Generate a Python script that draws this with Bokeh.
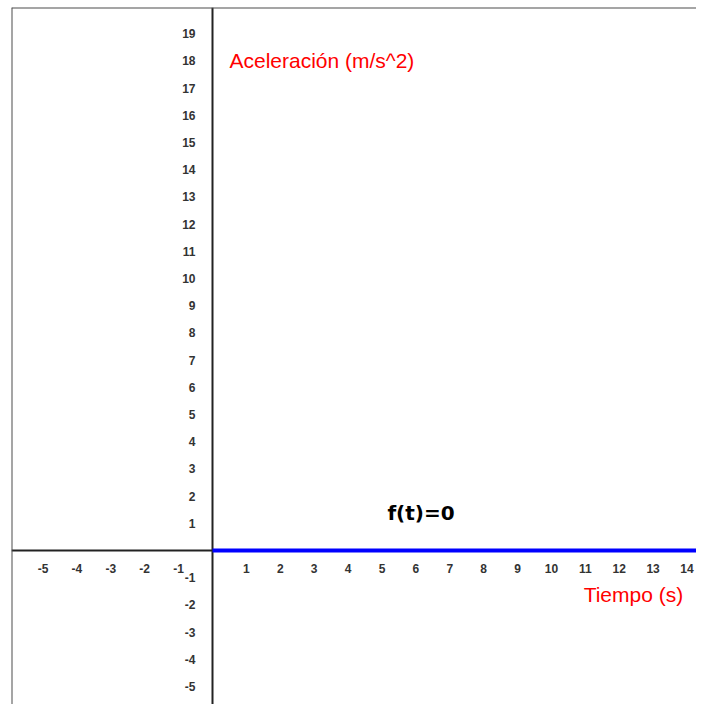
from bokeh.plotting import figure
from bokeh.models import FixedTicker, Span, Label
from bokeh.embed import file_html
from bokeh.resources import INLINE

# data
t_values = [0, 15]
f_values = [0, 0]
x_ticks = [-5, -4, -3, -2, -1, 1, 2, 3, 4, 5, 6, 7, 8, 9, 10, 11, 12, 13, 14]
y_ticks = [-5, -4, -3, -2, -1, 1, 2, 3, 4, 5, 6, 7, 8, 9, 10, 11, 12, 13, 14, 15, 16, 17, 18, 19]
x_min, x_max = -5.93, 14.28
y_min, y_max = -5.66, 19.96

p = figure(width=696, height=704, x_range=(x_min, x_max), y_range=(y_min, y_max),
           output_backend="svg", toolbar_location=None,
           min_border_left=11, min_border_right=0, min_border_top=7, min_border_bottom=0)
p.outline_line_color = None
p.grid.visible = False
p.background_fill_color = "white"

for ax in (p.xaxis[0], p.yaxis[0]):
    ax.fixed_location = 0
    ax.axis_line_color = "#222222"
    ax.axis_line_width = 2
    ax.major_tick_line_color = None
    ax.minor_tick_line_color = None
    ax.major_label_text_font = "Liberation Sans"
    ax.major_label_text_font_size = "12px"
    ax.major_label_text_font_style = "bold"
    ax.major_label_text_color = "#333333"
p.xaxis[0].ticker = FixedTicker(ticks=x_ticks)
p.yaxis[0].ticker = FixedTicker(ticks=y_ticks)
p.xaxis[0].major_label_overrides = {v: str(v) for v in x_ticks}
p.yaxis[0].major_label_overrides = {v: str(v) for v in y_ticks}
p.xaxis[0].major_label_standoff = 7
p.yaxis[0].major_label_standoff = 11

# frame edges (left and top)
p.add_layout(Span(location=x_min, dimension="height", line_color="#4d4d4d", line_width=2))
p.add_layout(Span(location=y_max, dimension="width", line_color="#4d4d4d", line_width=2))

r = p.line(t_values, f_values, line_color="#0000ff", line_width=4)
r.level = "overlay"

p.add_layout(Label(x=0.5, y=18, text="Aceleración (m/s^2)", text_color="#ff0000",
                   text_font="Liberation Sans", text_font_size="21px", text_baseline="middle"))
p.add_layout(Label(x=10.95, y=-1.6, text="Tiempo (s)", text_color="#ff0000",
                   text_font="Liberation Sans", text_font_size="21px", text_baseline="middle"))
p.add_layout(Label(x=5.16, y=1.38, text="f(t)=0", text_color="#000000",
                   text_font="DejaVu Sans", text_font_style="bold",
                   text_font_size="20px", text_baseline="middle"))

open("out.html", "w").write(file_html(p, INLINE))
